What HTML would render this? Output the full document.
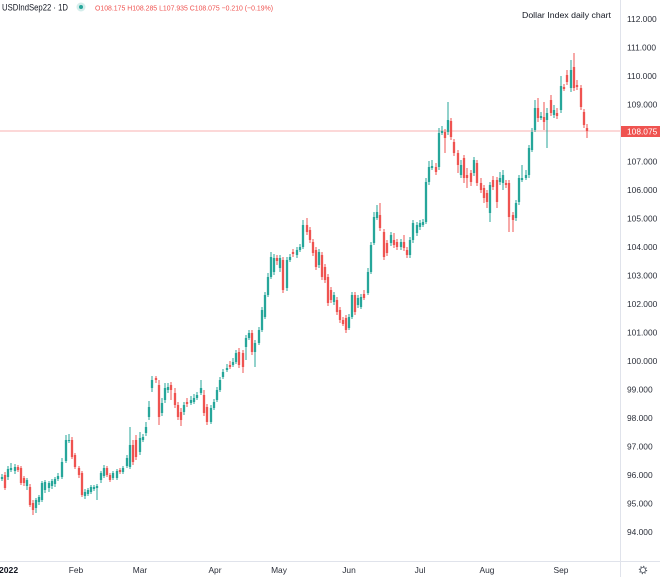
<!DOCTYPE html>
<html>
<head>
<meta charset="utf-8">
<style>
html,body{margin:0;padding:0;background:#ffffff;}
body{width:660px;height:577px;overflow:hidden;}
svg{display:block;font-family:"Liberation Sans",sans-serif;}
</style>
</head>
<body>
<svg width="660" height="577" viewBox="0 0 660 577" xmlns="http://www.w3.org/2000/svg">
<rect x="0" y="0" width="660" height="577" fill="#ffffff"/>

<!-- axes separators -->
<line x1="620.5" y1="0" x2="620.5" y2="577" stroke="#e0e3eb" stroke-width="1"/>
<line x1="0" y1="561.5" x2="660" y2="561.5" stroke="#e0e3eb" stroke-width="1"/>

<!-- price line -->
<line x1="0" y1="131" x2="620" y2="131" stroke="#ef5350" stroke-opacity="0.45" stroke-width="1"/>

<!-- candles -->
<g fill="none" stroke-linecap="butt">
<path stroke="#26a69a" stroke-width="1" d="M2 474V481M8 466V480M11 463V472M15 464V474M27 478V490M36 498V513M39 495V505M42 481V502M45 480V493M49 481V492M52 479V489M55 477V487M58 473V481M62 458V479M66 435V463M69 434V443M85 489V499M88 488V496M91 485V494M94 485V491M97 484V500M101 471V483M104 465V478M113 471V480M117 469V480M123 466V474M127 455V468M130 427V469M140 432V455M143 434V442M146 422V436M149 401V420M152 376V392M162 398V416M165 383V403M168 383V393M184 402V415M191 396V405M194 394V404M197 392V400M201 380V395M211 405V424M214 399V410M217 387V402M220 377V392M223 369V379M227 364V372M233 358V367M236 350V364M246 335V360M249 330V340M255 340V367M259 327V345M262 307V332M265 292V319M268 273V297M271 252V279M274 254V275M280 255V272M287 257V291M290 254V262M297 247V258M300 244V252M303 220V249M319 249V268M334 292V305M349 314V330M352 292V319M358 295V308M361 294V309M368 268V295M371 242V274M374 212V245M377 205V220M391 232V246M401 239V250M410 237V258M413 220V243M417 222V236M420 220V230M423 219V227M426 178V224M429 161V185M432 160V170M439 128V170M442 126V135M448 102V135M461 160V178M474 157V176M490 182V222M500 172V185M503 170V190M516 200V221M519 175V205M522 165V182M526 170V180M529 145V178M532 128V152M535 100V132M541 112V120M547 108V148M554 105V118M561 76V113M571 60V92"/>
<path stroke="#26a69a" stroke-width="2.3" d="M2 477V479M8 469V477M11 468V470M15 467V471M27 480V486M36 500V508M39 497V502M42 483V500M45 482V490M49 483V488M52 481V486M55 479V484M58 476V479M62 462V477M66 440V461M69 440V441M85 492V496M88 490V494M91 487V492M94 487V489M97 486V488M101 473V480M104 468V476M113 473V478M117 471V478M123 468V472M127 458V466M130 445V467M140 438V452M143 437V440M146 427V433M149 407V417M152 380V388M162 403V413M165 388V400M168 387V390M184 405V412M191 400V403M194 398V402M197 395V398M201 388V393M211 408V422M214 402V408M217 390V400M220 380V390M223 372V377M227 368V370M233 362V365M236 353V362M246 338V347M249 333V338M255 343V352M259 330V343M262 310V330M265 295V317M268 277V295M271 257V277M274 258V272M280 258V268M287 260V288M290 257V260M297 250V255M300 247V250M303 225V247M319 252V265M334 295V302M349 317V328M352 295V317M358 298V305M361 297V307M368 272V293M371 245V272M374 217V243M377 212V218M391 235V243M401 242V247M410 240V255M413 223V240M417 225V233M420 223V227M423 222V225M426 182V222M429 167V182M432 166V168M439 133V167M442 131V133M448 120V132M461 165V175M474 160V173M490 185V213M500 178V182M503 175V183M516 203V218M519 178V202M522 178V180M526 175V178M529 148V175M532 132V150M535 108V130M541 116V118M547 113V120M554 110V115M561 86V110M571 70V88"/>
<path stroke="#ef5350" stroke-width="1" d="M5 472V490M18 465V472M21 466V485M24 476V486M30 484V507M33 500V515M72 437V459M75 453V469M79 466V478M82 471V497M107 466V477M110 473V482M120 468V474M133 440V465M136 435V460M156 376V383M159 380V425M171 382V400M175 388V408M178 402V420M181 408V426M187 398V407M204 390V416M207 404V425M230 361V369M239 348V368M243 350V373M252 330V355M277 255V265M283 257V293M293 249V257M307 218V235M310 227V243M313 239V256M316 247V270M322 252V280M325 264V283M328 274V306M331 287V303M337 297V315M340 307V323M343 317V326M346 315V333M355 292V315M364 290V300M380 203V231M384 229V260M387 240V256M394 233V248M397 239V250M404 235V251M407 247V258M436 163V175M445 129V153M451 118V140M454 139V156M458 150V173M464 155V183M467 168V188M471 170V186M477 160V186M481 178V193M484 185V203M487 190V208M493 176V190M497 177V208M506 180V188M509 180V232M513 212V232M538 98V122M544 102V130M551 95V116M557 108V119M564 84V91M567 70V85M574 53V91M577 80V90M581 85V110M584 109V128M587 124V138"/>
<path stroke="#ef5350" stroke-width="2.3" d="M5 475V488M18 467V470M21 468V483M24 478V483M30 487V505M33 503V510M72 440V457M75 455V467M79 468V475M82 473V495M107 468V475M110 475V480M120 470V472M133 445V462M136 440V457M156 378V380M159 385V417M171 385V390M175 393V405M178 405V417M181 412V420M187 402V404M204 395V413M207 407V422M230 365V367M239 352V365M243 353V367M252 333V352M277 258V261M283 260V290M293 252V254M307 225V232M310 230V240M313 242V253M316 250V267M322 255V277M325 267V280M328 277V303M331 290V300M337 300V312M340 310V320M343 320V324M346 318V330M355 295V312M364 294V298M380 215V228M384 232V257M387 243V253M394 240V245M397 242V247M404 242V248M407 250V255M436 167V172M445 132V138M451 121V137M454 142V153M458 153V165M464 158V178M467 175V178M471 173V182M477 163V183M481 183V190M484 188V198M487 193V202M493 180V187M497 180V202M506 183V185M509 183V217M513 215V220M538 108V118M544 117V122M551 100V113M557 113V116M564 87V89M567 75V82M574 67V88M577 85V87M581 88V107M584 112V125M587 128V131"/>
</g>

<!-- header -->
<text x="2" y="10.5" font-size="9.5" fill="#131722" textLength="66" lengthAdjust="spacingAndGlyphs">USDIndSep22 · 1D</text>
<circle cx="81" cy="7" r="4.5" fill="#26a69a" fill-opacity="0.2"/>
<circle cx="81" cy="7" r="2" fill="#26a69a"/>
<text x="95" y="10.3" font-size="7.6" fill="#ef5350" textLength="178" lengthAdjust="spacingAndGlyphs">O108.175 H108.285 L107.935 C108.075 −0.210 (−0.19%)</text>

<text x="522" y="18" font-size="8.6" fill="#131722" textLength="89" lengthAdjust="spacingAndGlyphs">Dollar Index daily chart</text>

<!-- price axis -->
<g font-size="8.4" fill="#2a2e39">
<text x="627" y="22">112.000</text>
<text x="627" y="50.5">111.000</text>
<text x="627" y="79">110.000</text>
<text x="627" y="107.5">109.000</text>
<text x="627" y="164.5">107.000</text>
<text x="627" y="193">106.000</text>
<text x="627" y="221.5">105.000</text>
<text x="627" y="250">104.000</text>
<text x="627" y="278.5">103.000</text>
<text x="627" y="307">102.000</text>
<text x="627" y="335.5">101.000</text>
<text x="627" y="364">100.000</text>
<text x="627" y="392.5">99.000</text>
<text x="627" y="421">98.000</text>
<text x="627" y="449.5">97.000</text>
<text x="627" y="478">96.000</text>
<text x="627" y="506.5">95.000</text>
<text x="627" y="535">94.000</text>
</g>
<rect x="621" y="126" width="39" height="11" fill="#ef5350"/>
<text x="627" y="134.5" font-size="8.4" fill="#ffffff">108.075</text>

<!-- time axis -->
<g font-size="8.4" fill="#2a2e39" text-anchor="middle">
<text x="76" y="573">Feb</text>
<text x="140" y="573">Mar</text>
<text x="215" y="573">Apr</text>
<text x="279" y="573">May</text>
<text x="349" y="573">Jun</text>
<text x="420" y="573">Jul</text>
<text x="487" y="573">Aug</text>
<text x="561" y="573">Sep</text>
</g>
<text x="-1" y="573" font-size="8.6" font-weight="bold" fill="#131722">2022</text>

<!-- gear -->
<circle cx="643" cy="570" r="3.6" fill="none" stroke="#555b66" stroke-width="1.2" stroke-dasharray="1.2 1.63"/>
<circle cx="643" cy="570" r="2.6" fill="#ffffff" stroke="#555b66" stroke-width="0.8"/>
</svg>
</body>
</html>
